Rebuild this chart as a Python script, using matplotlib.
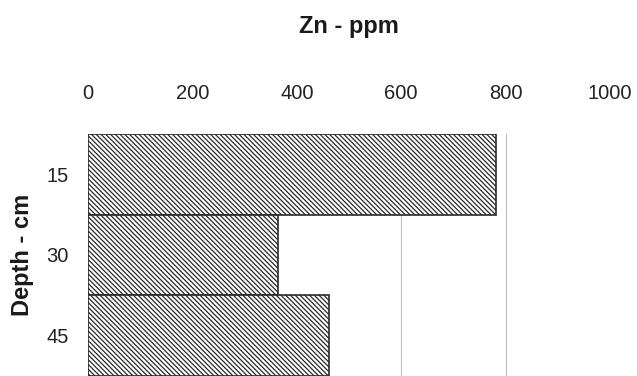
import matplotlib
matplotlib.use("Agg")
import matplotlib.pyplot as plt

# depth intervals (cm) and zinc concentration (ppm)
depths = ["15", "30", "45"]
zn_ppm = [782, 364, 462]
x_ticks = [0, 200, 400, 600, 800, 1000]
grid_shown = [600, 800]  # only these faint guide lines show in the original

plt.rcParams["font.family"] = ["Liberation Sans", "DejaVu Sans"]
plt.rcParams["hatch.linewidth"] = 0.9
plt.rcParams["hatch.color"] = "#2a2a2a"

W, H = 637, 376
fig = plt.figure(figsize=(W / 100, H / 100), dpi=100)
ax = fig.add_axes([88 / W, 0, (610 - 88) / W, (H - 134) / H])

pos = list(range(len(depths)))
ax.barh(pos, zn_ppm, height=1.0, color="white", edgecolor="#2a2a2a",
        linewidth=1.2, hatch="\\" * 7, zorder=2)

ax.set_xlim(0, 1000)
ax.set_ylim(len(depths) - 0.5, -0.5)
ax.set_xticks(x_ticks)
ax.set_yticks(pos)
ax.set_yticklabels(depths)
ax.xaxis.tick_top()
ax.tick_params(axis="x", length=0, pad=22, labelsize=14.5, labelcolor="#222222")
ax.tick_params(axis="y", length=0, pad=14, labelsize=14.5, labelcolor="#222222")

ax.grid(axis="x", color="#bdbdbd", linewidth=0.8, zorder=0)
ax.set_axisbelow(True)
for t, gl in zip(x_ticks, ax.get_xgridlines()):
    gl.set_visible(t in grid_shown)
for s in ax.spines.values():
    s.set_visible(False)

fig.text((88 + 610) / 2 / W, 1 - 26 / H, "Zn - ppm", ha="center", va="center",
         fontsize=17, fontweight="bold", color="#1a1a1a")
fig.text(23 / W, 1 - 255 / H, "Depth - cm", ha="center", va="center",
         rotation=90, fontsize=17, fontweight="bold", color="#1a1a1a")

fig.savefig("out.png", dpi=100)
